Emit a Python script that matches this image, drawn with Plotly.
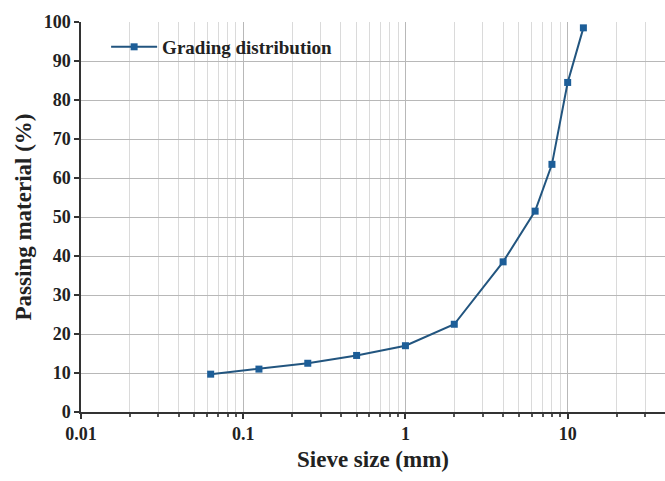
import plotly.graph_objects as go

# Sieve sizes (mm) and cumulative passing percentages
sieve_mm = [0.063, 0.125, 0.25, 0.5, 1, 2, 4, 6.3, 8, 10, 12.5]
passing_pct = [9.7, 11.0, 12.5, 14.5, 17.0, 22.5, 38.5, 51.5, 63.5, 84.5, 98.5]

x_tick_vals = [0.01, 0.1, 1, 10]
x_tick_text = ["0.01", "0.1", "1", "10"]
y_tick_vals = list(range(0, 101, 10))

minor_vals = [m * 10 ** e for e in (-2, -1, 0, 1) for m in range(2, 10)]

font_family = "Liberation Serif, Times New Roman, serif"

fig = go.Figure()
fig.add_trace(go.Scatter(
    x=sieve_mm, y=passing_pct,
    mode="lines+markers",
    name="<b>Grading distribution</b>",
    line=dict(color="#22557f", width=2),
    marker=dict(symbol="square", size=7, color="#1d5e98"),
))

fig.update_layout(
    width=665, height=481,
    margin=dict(l=81, r=0, t=22, b=69),
    paper_bgcolor="white", plot_bgcolor="white",
    font=dict(family=font_family, size=18, color="#222"),
    showlegend=True,
    legend=dict(
        x=0.043, y=0.936, xanchor="left", yanchor="middle",
        itemwidth=46,
        bgcolor="rgba(0,0,0,0)",
        font=dict(family=font_family, size=19, color="#222"),
    ),
    xaxis=dict(
        type="log",
        range=[-2, 1.6],
        tickvals=x_tick_vals, ticktext=[f"<b>{t}</b>" for t in x_tick_text],
        ticks="outside", ticklen=5, tickwidth=1.5, tickcolor="#333",
        tickfont=dict(size=18),
        showline=True, linecolor="#333", linewidth=1.5,
        showgrid=True, gridcolor="#b8b8b8", gridwidth=1,
        minor=dict(tickvals=minor_vals, ticks="outside", ticklen=3,
                   tickcolor="#555", showgrid=True, gridcolor="#dadada",
                   gridwidth=1),
        zeroline=False,
        title=dict(text="<b>Sieve size (mm)</b>", font=dict(size=23), standoff=8),
    ),
    yaxis=dict(
        range=[0, 100],
        tickvals=y_tick_vals, ticktext=[f"<b>{v}</b>" for v in y_tick_vals],
        ticks="outside", ticklen=5, tickwidth=1.5, tickcolor="#333",
        tickfont=dict(size=18),
        showline=True, linecolor="#333", linewidth=1.5,
        showgrid=True, gridcolor="#b8b8b8", gridwidth=1,
        zeroline=False,
        title=dict(text="<b>Passing material (%)</b>", font=dict(size=23), standoff=6),
    ),
)

fig.write_html("out.html")
